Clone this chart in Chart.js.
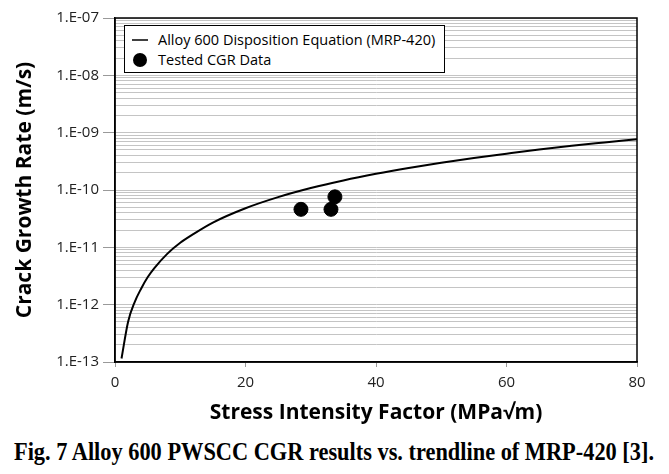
<!DOCTYPE html>
<html>
<head>
<meta charset="utf-8">
<script src="https://cdn.jsdelivr.net/npm/chart.js@4/dist/chart.umd.min.js"></script>
<style>
  html, body { margin: 0; padding: 0; background: #fff; }
  #wrap { position: relative; width: 669px; height: 474px; overflow: hidden; }
  #box { position: absolute; left: 0; top: 0; width: 669px; height: 430px; }
  #legend {
    position: absolute; left: 124px; top: 25px; width: 319px; height: 46px;
    border: 1px solid #000; background: #fff;
    font-family: "Open Sans", sans-serif; font-size: 14.5px; color: #000;
  }
  .item { position: absolute; left: 0; height: 20px; line-height: 20px; white-space: nowrap; }
  .item .mark { position: absolute; left: 6px; top: 0; width: 18px; height: 20px; }
  .item .txt { position: absolute; left: 33px; top: 0; }
  #caption {
    position: absolute; left: 0; top: 438px; width: 669px; height: 34px;
    font-family: "Liberation Serif", "Times New Roman", serif; font-weight: bold; font-size: 25px;
    color: #000; white-space: nowrap;
  }
  #captxt { position: absolute; left: 334px; top: 0; transform: translateX(-50%); }
</style>
</head>
<body>
<div id="wrap">
  <div id="box"><canvas id="chart"></canvas></div>
  <div id="legend"></div>
  <div id="caption"><span id="captxt">Fig. 7 Alloy 600 PWSCC CGR results vs. trendline of MRP-420 [3].</span></div>
</div>
<script>
// curva MRP-420
const kCurve = [1, 2, 3, 4, 5, 6, 8, 10, 12, 15, 20, 25, 30, 35, 40, 45, 50, 55, 60, 65, 70, 75, 80];
const cgrCurve = [1.15e-13, 5e-13, 1.1e-12, 1.9e-12, 3e-12, 4.3e-12, 7.7e-12, 1.2e-11, 1.7e-11, 2.7e-11,
  4.8e-11, 7.5e-11, 1.08e-10, 1.47e-10, 1.92e-10, 2.43e-10, 3.0e-10, 3.63e-10, 4.3e-10, 5.07e-10,
  5.9e-10, 6.75e-10, 7.7e-10];

// dati di prova
const kTest = [28.5, 33.1, 33.7];
const cgrTest = [4.6e-11, 4.6e-11, 7.6e-11];

const xTicks = [0, 20, 40, 60, 80];
const yTickLabels = ['1.E-13', '1.E-12', '1.E-11', '1.E-10', '1.E-09', '1.E-08', '1.E-07'];
const seriesNames = ['Alloy 600 Disposition Equation (MRP-420)', 'Tested CGR Data'];

function decadeIndex(v) {
  const e = Math.round(Math.log10(v));
  if (Math.abs(v / Math.pow(10, e) - 1) < 1e-6) return e + 13;
  return -1;
}

// cornice nera attorno all'area del grafico
const framePlugin = {
  id: 'frame',
  afterDraw(chart) {
    const a = chart.chartArea;
    const ctx = chart.ctx;
    ctx.save();
    ctx.strokeStyle = '#000';
    ctx.lineWidth = 1.5;
    ctx.strokeRect(a.left, a.top, a.right - a.left, a.bottom - a.top);
    ctx.restore();
  }
};

Chart.defaults.font.family = "'Open Sans', sans-serif";
Chart.defaults.color = '#222';

const tickFont = { family: "'Open Sans', sans-serif", size: 15 };

const chart = new Chart(document.getElementById('chart'), {
  type: 'scatter',
  data: {
    datasets: [
      {
        label: seriesNames[1],
        data: kTest.map((k, i) => ({ x: k, y: cgrTest[i] })),
        backgroundColor: '#000',
        borderColor: '#000',
        pointRadius: 7,
        pointHoverRadius: 7,
        order: 0
      },
      {
        label: seriesNames[0],
        type: 'line',
        data: kCurve.map((k, i) => ({ x: k, y: cgrCurve[i] })),
        borderColor: '#000',
        borderWidth: 2,
        pointRadius: 0,
        cubicInterpolationMode: 'monotone',
        fill: false,
        order: 1
      }
    ]
  },
  options: {
    responsive: true,
    maintainAspectRatio: false,
    animation: false,
    layout: { padding: { top: 18, right: 32, left: 0, bottom: 0 } },
    plugins: {
      legend: { display: false },
      tooltip: { enabled: false }
    },
    scales: {
      x: {
        type: 'linear',
        min: 0,
        max: 80,
        afterBuildTicks: s => { s.ticks = xTicks.map(v => ({ value: v })); },
        afterFit: s => { s.height = 68; },
        ticks: {
          color: '#222',
          font: tickFont,
          padding: 7
        },
        grid: { drawOnChartArea: false, color: '#999', tickLength: 5 },
        border: { color: '#000', width: 1.5 },
        title: {
          display: true,
          text: 'Stress Intensity Factor (MPa\u221Am)',
          color: '#000',
          font: { family: "'Open Sans', sans-serif", size: 21, weight: 'bold' },
          padding: { top: 4 }
        }
      },
      y: {
        type: 'logarithmic',
        min: 1e-13,
        max: 1e-7,
        afterBuildTicks: s => {
          const t = [];
          for (let e = -13; e < -7; e++) {
            for (let m = 1; m <= 9; m++) t.push({ value: m * Math.pow(10, e) });
          }
          t.push({ value: 1e-7 });
          s.ticks = t;
        },
        afterFit: s => { s.width = 115; },
        ticks: {
          autoSkip: false,
          color: '#222',
          font: tickFont,
          padding: 4,
          callback: v => {
            const i = decadeIndex(v);
            return i >= 0 ? yTickLabels[i] : '';
          }
        },
        grid: {
          color: '#c4c4c4',
          lineWidth: 1,
          tickLength: 12,
          tickColor: ctx => (ctx.tick && decadeIndex(ctx.tick.value) >= 0) ? '#999' : 'rgba(0,0,0,0)'
        },
        border: { color: '#000', width: 1.5 },
        title: {
          display: true,
          text: 'Crack Growth Rate (m/s)',
          color: '#000',
          font: { family: "'Open Sans', sans-serif", size: 21, weight: 'bold' },
          padding: { top: 12, bottom: 4 }
        }
      }
    }
  },
  plugins: [framePlugin]
});

// legenda dentro l'area del grafico
const legend = document.getElementById('legend');
legend.innerHTML =
  '<div class="item" style="top:4px"><svg class="mark"><line x1="1" y1="10" x2="17" y2="10" stroke="#000" stroke-width="1.5"/></svg><span class="txt">' + seriesNames[0] + '</span></div>' +
  '<div class="item" style="top:24px"><svg class="mark"><circle cx="9" cy="10" r="7" fill="#000"/></svg><span class="txt">' + seriesNames[1] + '</span></div>';

// didascalia compressa in larghezza
const cap = document.getElementById('captxt');
const w = cap.getBoundingClientRect().width;
cap.style.transform = 'translateX(-50%) scaleX(' + (640 / w) + ')';
</script>
</body>
</html>
